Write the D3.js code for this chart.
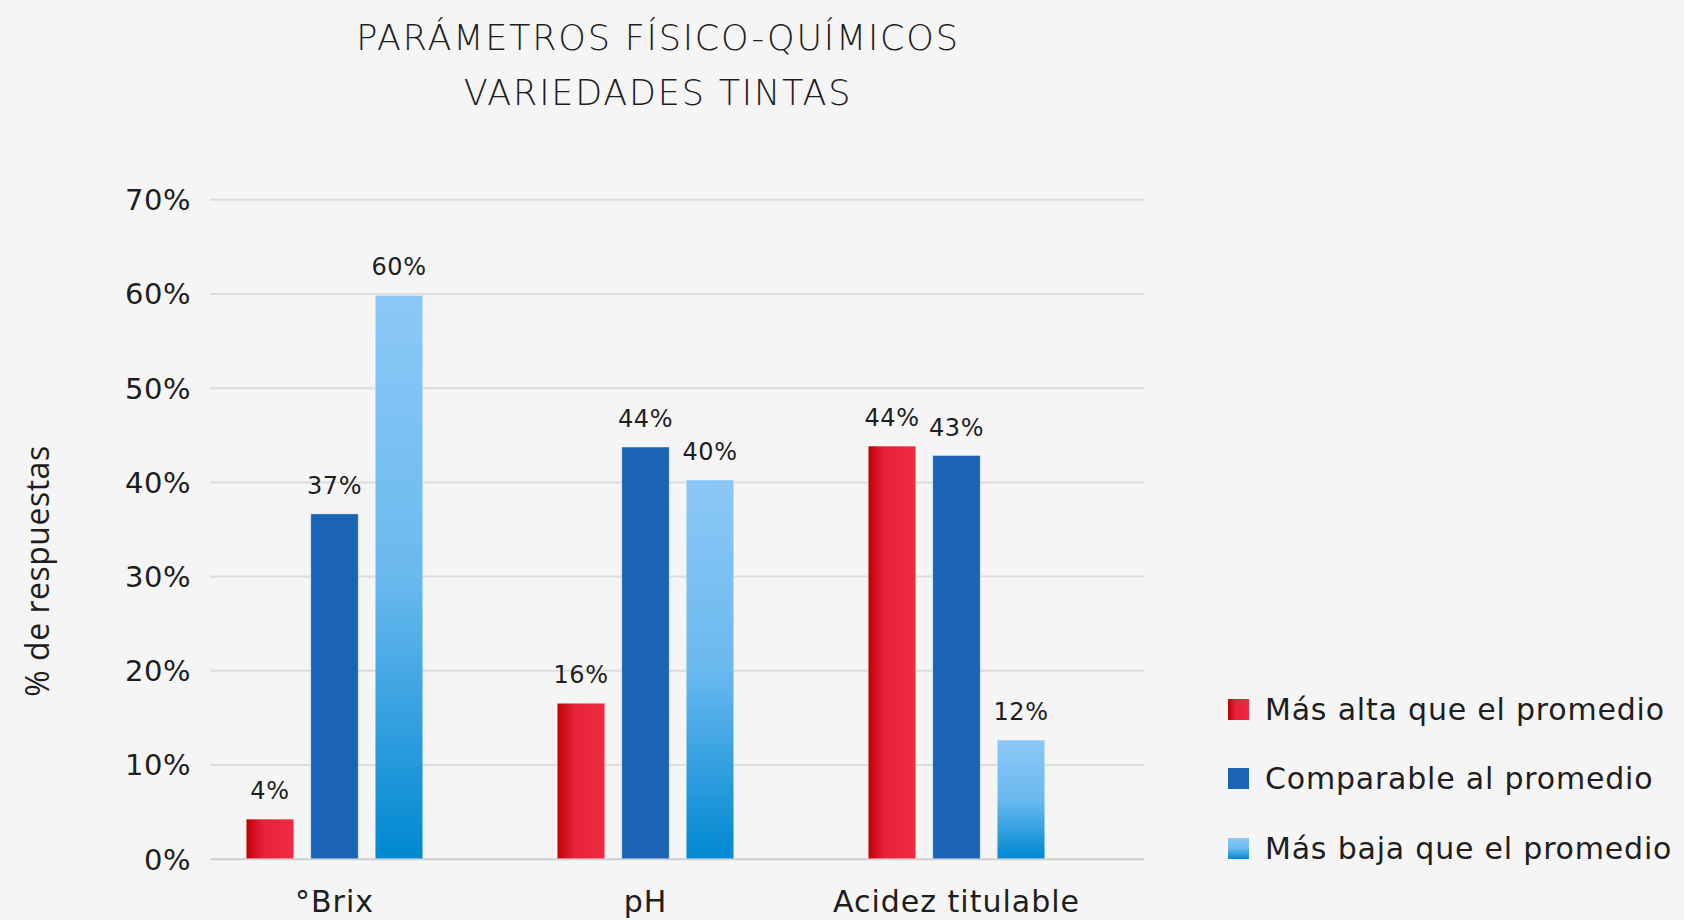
<!DOCTYPE html>
<html>
<head>
<meta charset="utf-8">
<script src="https://cdn.jsdelivr.net/npm/d3@7"></script>
<style>
  body { margin: 0; background: #f5f5f5; }
  svg { display: block; }
  text { fill: #1e1e1e; font-family: "DejaVu Sans", sans-serif; }
</style>
</head>
<body>
<svg width="1684" height="920"></svg>
<script>
// datos
const categorias = ["°Brix", "pH", "Acidez titulable"];
const series = ["Más alta que el promedio", "Comparable al promedio", "Más baja que el promedio"];
const masAlta = [4.2, 16.5, 43.8];
const comparable = [36.6, 43.7, 42.8];
const masBaja = [59.8, 40.2, 12.6];
const etiquetasAlta = ["4%", "16%", "44%"];
const etiquetasComparable = ["37%", "44%", "43%"];
const etiquetasBaja = ["60%", "40%", "12%"];
const yTicks = [0, 10, 20, 30, 40, 50, 60, 70];

const valores = [masAlta, comparable, masBaja];
const etiquetas = [etiquetasAlta, etiquetasComparable, etiquetasBaja];
const rellenos = ["url(#gradRojo)", "#1b63b4", "url(#gradCeleste)"];

const svg = d3.select("svg");

const defs = svg.append("defs");
const gRojo = defs.append("linearGradient").attr("id", "gradRojo")
  .attr("x1", 0).attr("y1", 0).attr("x2", 1).attr("y2", 0);
gRojo.append("stop").attr("offset", "0%").attr("stop-color", "#bf0000");
gRojo.append("stop").attr("offset", "35%").attr("stop-color", "#e5223a");
gRojo.append("stop").attr("offset", "100%").attr("stop-color", "#ef2a41");

const gCeleste = defs.append("linearGradient").attr("id", "gradCeleste")
  .attr("x1", 0).attr("y1", 0).attr("x2", 0).attr("y2", 1);
gCeleste.append("stop").attr("offset", "0%").attr("stop-color", "#8cc8f7");
gCeleste.append("stop").attr("offset", "50%").attr("stop-color", "#6ab9ef");
gCeleste.append("stop").attr("offset", "100%").attr("stop-color", "#0088d1");

const plotLeft = 210, plotRight = 1144;

const y = d3.scaleLinear().domain([0, 70]).range([858.7, 199.3]);

const x = d3.scaleBand()
  .domain(categorias)
  .range([plotLeft - 31, plotRight - 32]);

const xSub = d3.scaleBand()
  .domain(series)
  .range([0, x.bandwidth()])
  .paddingInner(0.264)
  .paddingOuter(1.043);

// lineas de cuadricula + etiquetas del eje y
const ejeY = svg.append("g")
  .attr("transform", "translate(" + plotLeft + ",0)")
  .call(d3.axisLeft(y)
    .tickValues(yTicks)
    .tickSize(-(plotRight - plotLeft))
    .tickPadding(19)
    .tickFormat(d => d + "%"));
ejeY.select(".domain").remove();
ejeY.selectAll(".tick line")
  .attr("stroke", d => d === 0 ? "#cfcfcf" : "#dcdcdc")
  .attr("stroke-width", 2);
ejeY.selectAll(".tick text")
  .attr("font-size", 29)
  .attr("dy", "0.36em")
  .style("font-family", "DejaVu Sans")
  .style("letter-spacing", "0.5px")
  .style("fill", "#1e1e1e");

// barras
const grupos = svg.append("g").selectAll("g")
  .data(categorias)
  .enter()
  .append("g")
  .attr("transform", d => "translate(" + x(d) + ",0)");

series.forEach(function (s, j) {
  grupos.append("rect")
    .attr("x", xSub(s))
    .attr("width", xSub.bandwidth())
    .attr("y", (d, i) => y(valores[j][i]))
    .attr("height", (d, i) => y(0) - y(valores[j][i]))
    .attr("fill", rellenos[j])
    .attr("stroke", "rgba(255,255,255,0.35)")
    .attr("stroke-width", 1);

  grupos.append("text")
    .attr("x", xSub(s) + xSub.bandwidth() / 2)
    .attr("y", (d, i) => y(valores[j][i]) - 20)
    .attr("text-anchor", "middle")
    .attr("font-size", 24)
    .style("letter-spacing", "0.6px")
    .text((d, i) => etiquetas[j][i]);
});

// etiquetas de categorias
svg.append("g").selectAll("text")
  .data(categorias)
  .enter()
  .append("text")
  .attr("x", d => x(d) + x.bandwidth() / 2)
  .attr("y", 912)
  .attr("text-anchor", "middle")
  .attr("font-size", 30)
  .style("letter-spacing", "1px")
  .text(d => d);

// titulo eje y
svg.append("text")
  .attr("transform", "translate(49,571) rotate(-90)")
  .attr("text-anchor", "middle")
  .attr("font-size", 32)
  .style("font-family", "'Open Sans', sans-serif")
  .style("letter-spacing", "0.5px")
  .text("% de respuestas");

// titulo
const titulo = ["PARÁMETROS FÍSICO-QUÍMICOS", "VARIEDADES TINTAS"];
svg.append("g").selectAll("text")
  .data(titulo)
  .enter()
  .append("text")
  .attr("x", 658)
  .attr("y", (d, i) => 50 + i * 55)
  .attr("text-anchor", "middle")
  .attr("font-size", 35)
  .attr("font-weight", 300)
  .style("letter-spacing", "1.8px")
  .text(d => d);

// leyenda
const leyenda = svg.append("g").selectAll("g")
  .data(series)
  .enter()
  .append("g")
  .attr("transform", (d, i) => "translate(1228," + [699, 768, 838][i] + ")");
leyenda.append("rect")
  .attr("width", 21)
  .attr("height", 21)
  .attr("fill", (d, i) => rellenos[i]);
leyenda.append("text")
  .attr("x", 37)
  .attr("y", 21)
  .attr("font-size", 30)
  .style("letter-spacing", "0.8px")
  .text(d => d);
</script>
</body>
</html>
